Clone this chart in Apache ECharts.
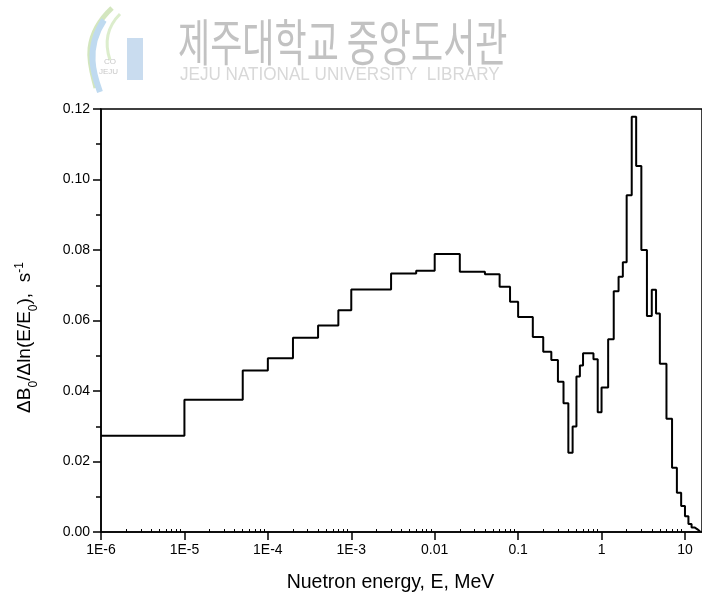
<!DOCTYPE html>
<html>
<head>
<meta charset="utf-8">
<script src="https://cdn.jsdelivr.net/npm/echarts@6/dist/echarts.min.js"></script>
<style>html,body{margin:0;padding:0;background:#fff}#c{width:702px;height:600px}</style>
</head>
<body>
<div id="c"></div>
<script>
// Bin lower edges (MeV) and values (s^-1); last edge closes the final bin
const binEdges = [1e-6, 1e-5, 5e-5, 1e-4, 2e-4, 4e-4, 7e-4, 1e-3, 3e-3, 6e-3,
  0.01, 0.02, 0.04, 0.06, 0.08, 0.1, 0.15, 0.2, 0.25, 0.3, 0.35, 0.4, 0.45, 0.5, 0.55,
  0.6, 0.8, 0.9, 1.0, 1.2, 1.4, 1.6, 1.8, 2.0, 2.3, 2.6, 3.0, 3.5, 4.0, 4.5, 5.0,
  6.0, 7.0, 8.0, 9.0, 10, 11, 12, 13, 14, 15];
const binValues = [0.0273, 0.0375, 0.0458, 0.0493, 0.0551, 0.0586, 0.0629, 0.0688, 0.0733,
  0.0741, 0.0789, 0.0738, 0.0731, 0.0696, 0.0653, 0.0610, 0.0553, 0.0511, 0.0488, 0.0426,
  0.0365, 0.0225, 0.0299, 0.0441, 0.0472, 0.0507, 0.0490, 0.0340, 0.0410, 0.0547, 0.0683,
  0.0724, 0.0765, 0.0955, 0.1178, 0.1038, 0.0800, 0.0613, 0.0687, 0.0620, 0.0477, 0.0321,
  0.0182, 0.0111, 0.0074, 0.0045, 0.0023, 0.0013, 0.0008, 0.0003];
const xTickLabels = {'-6':'1E-6','-5':'1E-5','-4':'1E-4','-3':'1E-3','-2':'0.01','-1':'0.1','0':'1','1':'10'};
const xMajorTicks = [1e-6, 1e-5, 1e-4, 1e-3, 1e-2, 1e-1, 1, 10];
const xMinorMult = [2, 3, 4, 5, 6, 7, 8, 9];

const stepData = [];
for (let i = 0; i < binValues.length; i++) stepData.push([binEdges[i], binValues[i]]);
stepData.push([binEdges[binEdges.length - 1], binValues[binValues.length - 1]]);
stepData.push([binEdges[binEdges.length - 1], 0]);

const minorTicks = [];
xMajorTicks.forEach(d => xMinorMult.forEach(m => { if (d * m <= 16) minorTicks.push(d * m); }));

const FONT = 'Liberation Sans, Arial, sans-serif';
const chart = echarts.init(document.getElementById('c'), null, {renderer: 'canvas'});
chart.setOption({
  animation: false,
  backgroundColor: '#fff',
  grid: {left: 101, right: -1, top: 109, bottom: 68, show: true, borderColor: '#000', borderWidth: 1.5, backgroundColor: 'transparent'},
  graphic: [
    // watermark logo (approximate)
    {type: 'bezierCurve', shape: {x1: 112, y1: 8, x2: 96, y2: 88, cpx1: 78, cpy1: 40, cpx2: 92, cpy2: 70}, style: {stroke: '#d3e6be', lineWidth: 5, fill: null}},
    {type: 'bezierCurve', shape: {x1: 104, y1: 20, x2: 100, y2: 92, cpx1: 84, cpy1: 50, cpx2: 95, cpy2: 78}, style: {stroke: '#bfdaf0', lineWidth: 6, fill: null}},
    {type: 'bezierCurve', shape: {x1: 120, y1: 14, x2: 110, y2: 60, cpx1: 104, cpy1: 30, cpx2: 106, cpy2: 48}, style: {stroke: '#dcedcc', lineWidth: 3, fill: null}},
    {type: 'rect', shape: {x: 127, y: 38, width: 16, height: 42}, style: {fill: '#c9dcef'}},
    {type: 'text', style: {x: 104, y: 58, text: 'CO', font: '8px ' + FONT, fill: '#c8c8c8'}},
    {type: 'text', style: {x: 99, y: 68, text: 'JEJU', font: '8px ' + FONT, fill: '#c8c8c8'}},
    {type: 'text', scaleX: 0.76, scaleY: 1.08, x: 178, y: 17, style: {x: 0, y: 0, text: '제주대학교 중앙도서관', font: '46px "Noto Sans CJK KR"', fill: '#c2c2c2'}},
    {type: 'text', scaleX: 0.9, x: 180, y: 65, style: {x: 0, y: 0, text: 'JEJU NATIONAL UNIVERSITY  LIBRARY', font: '19px ' + FONT, fill: '#d8d8d8'}}
  ],
  xAxis: [{
    type: 'log', min: 1e-6, max: 16, logBase: 10,
    name: 'Nuetron energy, E, MeV', nameLocation: 'middle', nameGap: 41,
    nameTextStyle: {fontFamily: FONT, fontSize: 19.5, color: '#000', padding: [0, 22, 0, 0]},
    axisLine: {show: true, onZero: false, lineStyle: {color: '#000', width: 1.5}},
    axisTick: {show: true, inside: false, length: 8, lineStyle: {color: '#000', width: 1.5}, customValues: xMajorTicks},
    axisLabel: {show: true, margin: 11, fontFamily: FONT, fontSize: 14, color: '#000', customValues: xMajorTicks,
      formatter: v => { const k = Math.round(Math.log10(v)); return xTickLabels[String(k)] || ''; }},
    splitLine: {show: false}, minorTick: {show: false}, minorSplitLine: {show: false}
  }, {
    type: 'log', min: 1e-6, max: 16, logBase: 10, position: 'bottom',
    axisLine: {show: false},
    axisTick: {show: true, inside: true, length: 3, lineStyle: {color: '#000', width: 1}, customValues: minorTicks},
    axisLabel: {show: false}, splitLine: {show: false}
  }],
  yAxis: {
    type: 'value', min: 0, max: 0.12, interval: 0.02,
    name: '{t|ΔB}{s|0}{t|/Δln(E/E}{s|0}{t|),  s}{p|-1}',
    nameLocation: 'middle', nameGap: 67, nameRotate: 90,
    nameTextStyle: {fontFamily: FONT, fontSize: 19, color: '#000', padding: [0, 34, 0, 0],
      rich: {
        t: {fontFamily: FONT, fontSize: 19, color: '#000', verticalAlign: 'bottom', lineHeight: 24},
        s: {fontFamily: FONT, fontSize: 12, color: '#000', verticalAlign: 'bottom', lineHeight: 15, padding: [0, 0, -6, 0]},
        p: {fontFamily: FONT, fontSize: 12, color: '#000', verticalAlign: 'bottom', lineHeight: 32, padding: [0, 0, 8, 0]}
      }},
    axisLine: {show: true, lineStyle: {color: '#000', width: 1.5}},
    axisTick: {show: true, inside: false, length: 8, lineStyle: {color: '#000', width: 1.5}},
    minorTick: {show: true, splitNumber: 2, length: 5, lineStyle: {color: '#000', width: 1.5}},
    axisLabel: {fontFamily: FONT, fontSize: 14, color: '#000', margin: 11,
      formatter: v => v.toFixed(2)},
    splitLine: {show: false}
  },
  series: [{
    type: 'line', step: 'end', data: stepData, showSymbol: false, symbol: 'none',
    lineStyle: {color: '#000', width: 2}, clip: true
  }]
});
</script>
</body>
</html>
